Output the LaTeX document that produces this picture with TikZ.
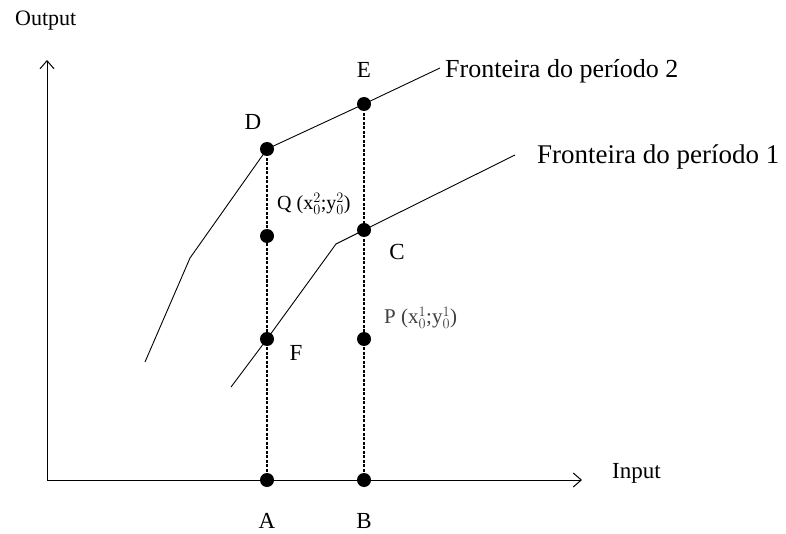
\documentclass[tikz,border=0pt]{standalone}
\usepackage{fontspec}
\setmainfont{Liberation Serif}
\usetikzlibrary{arrows.meta}
\begin{document}
\begin{tikzpicture}[x=1pt,y=-1pt,
  dot/.style={circle,fill=black,inner sep=0pt,minimum size=14pt},
  lab/.style={font=\fontsize{23}{23}\selectfont,inner sep=0pt},
  front/.style={line width=0.9pt},
  guide/.style={dash pattern=on 3pt off 1.5pt,line width=1.1pt},
  axis/.style={line width=1pt,-{Straight Barb[length=8pt,width=14pt]}}]
\useasboundingbox (0,0) rectangle (786,534);
% axes
\coordinate (O) at (47,480);
\coordinate (ytop) at (47,60);
\coordinate (xend) at (582,480);
\draw[axis] (O) -- (ytop);
\draw[axis] (O) -- (xend);
\node[font=\fontsize{22}{22}\selectfont,inner sep=0pt,anchor=west] (out) at (15,21) {Output};
\node[font=\fontsize{23}{23}\selectfont,inner sep=0pt,anchor=west] (in) at (612,473) {Input};
% points
\coordinate (A) at (267,480);
\coordinate (B) at (364,480);
\coordinate (D) at (267,149);
\coordinate (E) at (364,104);
\coordinate (Q) at (267,236);
\coordinate (C) at (364,230);
\coordinate (F) at (267,339);
\coordinate (P) at (364,339);
% guides
\draw[guide] (D) -- (A);
\draw[guide] (E) -- (B);
% frontier 2
\coordinate (f2a) at (145,362);
\coordinate (f2b) at (190,258);
\coordinate (f2e) at (440,68);
\draw[front] (f2a) -- (f2b) -- (D) -- (E) -- (f2e);
% frontier 1
\coordinate (f1a) at (231,387);
\coordinate (f1b) at (336,244);
\coordinate (f1e) at (515,155);
\draw[front] (f1a) -- (F) -- (f1b) -- (C) -- (f1e);
% dots
\foreach \p in {A,B,D,E,Q,C,F,P} \node[dot] at (\p) {};
% labels
\node[lab] (lE) at (364,70) {E};
\node[lab] (lD) at (253,122) {D};
\node[lab] (lC) at (397,252) {C};
\node[lab] (lF) at (296,353) {F};
\node[lab] (lA) at (267,521) {A};
\node[lab] (lB) at (364,521) {B};
\node[font=\fontsize{26}{26}\selectfont,inner sep=0pt,anchor=west] (t2) at (445,71) {Fronteira do período 2};
\node[font=\fontsize{27}{27}\selectfont,inner sep=0pt,anchor=west] (t1) at (537,157) {Fronteira do período 1};
\node[font=\fontsize{20}{20}\selectfont,inner sep=0pt,anchor=west] (lQ) at (277,204) {Q (x$_0^2$;y$_0^2$)};
\node[font=\fontsize{21}{21}\selectfont,inner sep=0pt,anchor=west,text=black!75] (lP) at (384,318) {P (x$_0^1$;y$_0^1$)};
\end{tikzpicture}
\end{document}
